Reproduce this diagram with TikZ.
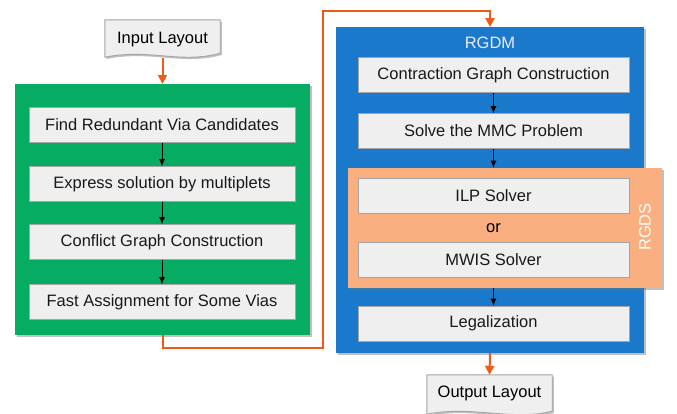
\documentclass[tikz,border=0pt]{standalone}
\usepackage{fontspec}
\setmainfont{Liberation Sans}
\usetikzlibrary{arrows.meta,shadows}
\definecolor{gboxc}{HTML}{05AC62}
\definecolor{bboxc}{HTML}{1A79CB}
\definecolor{oboxc}{HTML}{F9AF7F}
\definecolor{olinec}{HTML}{F05A14}
\definecolor{cellc}{HTML}{EFEFEF}
\definecolor{celld}{HTML}{A5A5A5}
\tikzset{
  shd/.style={drop shadow={shadow xshift=1.6pt,shadow yshift=-1.8pt,opacity=0.45,fill=black!55}},
  container/.style={shape=rectangle,inner sep=0pt,outer sep=0pt,shd},
  cell/.style={shape=rectangle,draw=celld,fill=cellc,line width=0.9pt,inner sep=0pt,outer sep=0pt,
    minimum height=35pt,font=\fontsize{16.5}{19}\selectfont,text=black!90},
  lcell/.style={cell,minimum width=266pt},
  rcell/.style={cell,minimum width=271pt},
  blk/.style={-{Latex[length=7.5pt,width=6pt]},line width=1pt,black},
  orn/.style={-{Triangle[length=9pt,width=9pt]},line width=2pt,olinec},
  doc/.style={draw=celld,fill=cellc,line width=0.9pt,shd},
  txt/.style={font=\fontsize{16.5}{19}\selectfont},
}
\begin{document}
\begin{tikzpicture}[x=1pt,y=-1pt]
\useasboundingbox (0,0) rectangle (677,413);
% containers
\node[container,fill=gboxc,minimum width=295pt,minimum height=251pt] (green) at (162.5,209.5) {};
\node[container,fill=bboxc,minimum width=308pt,minimum height=326pt] (blue) at (490,190) {};
\node[container,fill=oboxc,minimum width=314pt,minimum height=120pt] (rgds) at (505,228) {};
% labels of containers
\node[txt,text=white!92!blue] (rgdmlbl) at (490,43) {RGDM};
\node[txt,text=white,rotate=90] (rgdslbl) at (645,227) {RGDS};
% left cells
\node[lcell] (f1) at (162,125) {Find Redundant Via Candidates};
\node[lcell] (f2) at (162,184) {Express solution by multiplets};
\node[lcell] (f3) at (162,242) {Conflict Graph Construction};
\node[lcell] (f4) at (162,302) {Fast Assignment for Some Vias};
% right cells
\node[rcell] (r1) at (493.5,75) {Contraction Graph Construction};
\node[rcell] (r2) at (493.5,131) {Solve the MMC Problem};
\node[rcell] (r3) at (493.5,196) {ILP Solver};
\node[txt] (orl) at (493.5,228.5) {or};
\node[rcell] (r4) at (493.5,260) {MWIS Solver};
\node[rcell] (r5) at (493.5,323.5) {Legalization};
% input / output documents
\node[inner sep=0pt,minimum width=115pt,minimum height=38pt] (in) at (162.5,39) {};
\draw[doc] (in.north west) -- (in.north east) -- ([yshift=5pt]in.south east)
  .. controls ([xshift=-40pt,yshift=-6pt]in.south east) and ([xshift=45pt,yshift=10pt]in.south west) .. ([yshift=1pt]in.south west) -- cycle;
\node[txt] (intxt) at (162.5,39.5) {Input Layout};
\node[inner sep=0pt,minimum width=125pt,minimum height=40pt] (out) at (489.5,395) {};
\draw[doc] (out.north west) -- (out.north east) -- ([yshift=4pt]out.south east)
  .. controls ([xshift=-40pt,yshift=-6pt]out.south east) and ([xshift=45pt,yshift=10pt]out.south west) .. ([yshift=1pt]out.south west) -- cycle;
\node[txt] (outtxt) at (489.5,393.5) {Output Layout};
% black arrows
\draw[blk] (f1.south) -- (f2.north);
\draw[blk] (f2.south) -- (f3.north);
\draw[blk] (f3.south) -- (f4.north);
\draw[blk] (r1.south) -- (r2.north);
\draw[blk] (r2.south) -- (rgds.north -| r2.south);
\draw[blk] (rgds.south -| r5.north) -- (r5.north);
% orange connectors
\coordinate (c1) at (323,348);
\coordinate (c2) at (323,10.5);
\draw[orn] (in.south) -- (green.north);
\draw[orn] (green.south) |- (c1) -- (c2) -| (blue.north);
\draw[orn] (blue.south) -- (out.north);
\end{tikzpicture}
\end{document}
